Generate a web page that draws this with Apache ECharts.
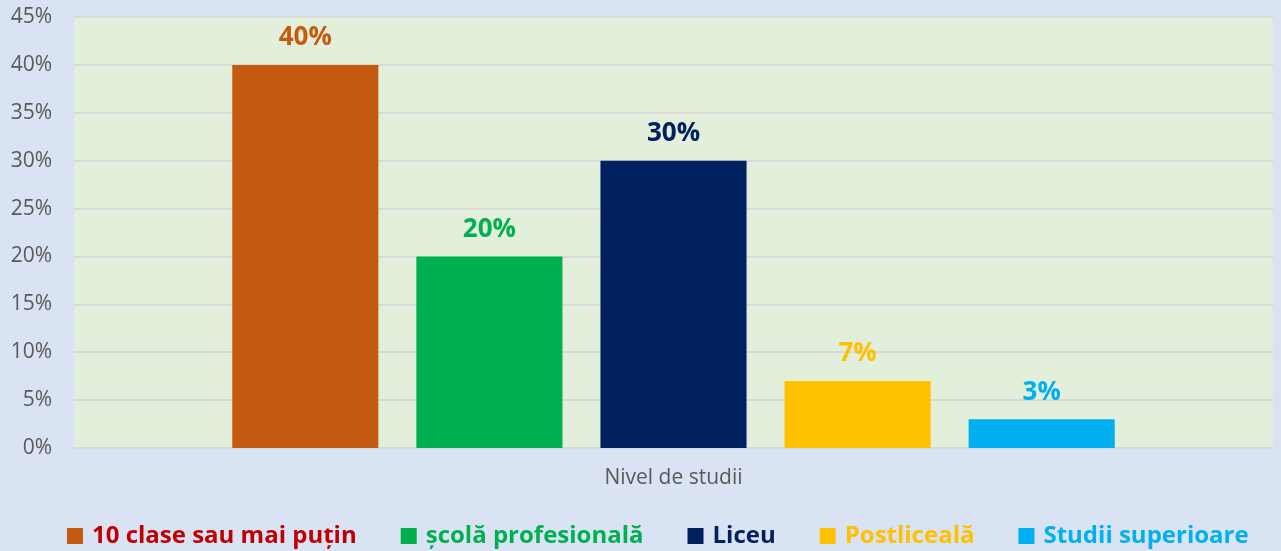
<!DOCTYPE html>
<html><head><meta charset="utf-8">
<script src="https://cdn.jsdelivr.net/npm/echarts@6/dist/echarts.min.js"></script>
<style>html,body{margin:0;padding:0;background:#dae3f3}#c{width:1281px;height:551px}</style>
</head><body><div id="c"></div>
<script>
const categories = ["Nivel de studii"];
const seriesNames = ["10 clase sau mai puțin", "școlă profesională", "Liceu", "Postliceală", "Studii superioare"];
const seriesValues = [40, 20, 30, 7, 3];
const seriesColors = ["#c55a11", "#00b050", "#002060", "#ffc000", "#00b0f0"];
const legendTextColors = ["#c00000", "#00b050", "#002060", "#ffc000", "#00b0f0"];
const yTicks = [0, 5, 10, 15, 20, 25, 30, 35, 40, 45];

const chart = echarts.init(document.getElementById('c'), null, {renderer: 'canvas'});
const FONT = '"Open Sans", sans-serif';
chart.setOption({
  backgroundColor: '#dae3f3',
  textStyle: {fontFamily: FONT},
  grid: {left: 74, right: 8, top: 17, bottom: 103, show: true, backgroundColor: '#e2efda', borderWidth: 0},
  legend: {
    top: 524, left: 67, itemWidth: 16, itemHeight: 16, itemGap: 44, icon: 'rect', padding: 0,
    data: seriesNames.map((n, i) => ({name: n, textStyle: {color: legendTextColors[i]}})),
    textStyle: {fontSize: 24, fontWeight: 'bold', fontFamily: FONT, padding: [0, 0, 0, 4]}
  },
  xAxis: {
    type: 'category', data: categories,
    axisLine: {show: true, lineStyle: {color: '#d9d9d9', width: 2}},
    axisTick: {show: false},
    axisLabel: {color: '#595959', fontSize: 21, margin: 20, fontFamily: FONT}
  },
  yAxis: {
    type: 'value', min: yTicks[0], max: yTicks[yTicks.length - 1], interval: 5,
    axisLine: {show: false}, axisTick: {show: false},
    splitLine: {lineStyle: {color: '#d9d9d9', width: 2}},
    axisLabel: {color: '#595959', fontSize: 21, margin: 22, formatter: '{value}%', fontFamily: FONT}
  },
  series: seriesNames.map((n, i) => ({
    name: n, type: 'bar', data: [seriesValues[i]],
    barGap: '26%', barCategoryGap: '26.4%',
    itemStyle: {color: seriesColors[i]},
    label: {show: true, position: 'top', distance: 14, formatter: '{c}%', color: seriesColors[i], fontSize: 26, fontWeight: 'bold', fontFamily: FONT}
  }))
});
</script></body></html>
